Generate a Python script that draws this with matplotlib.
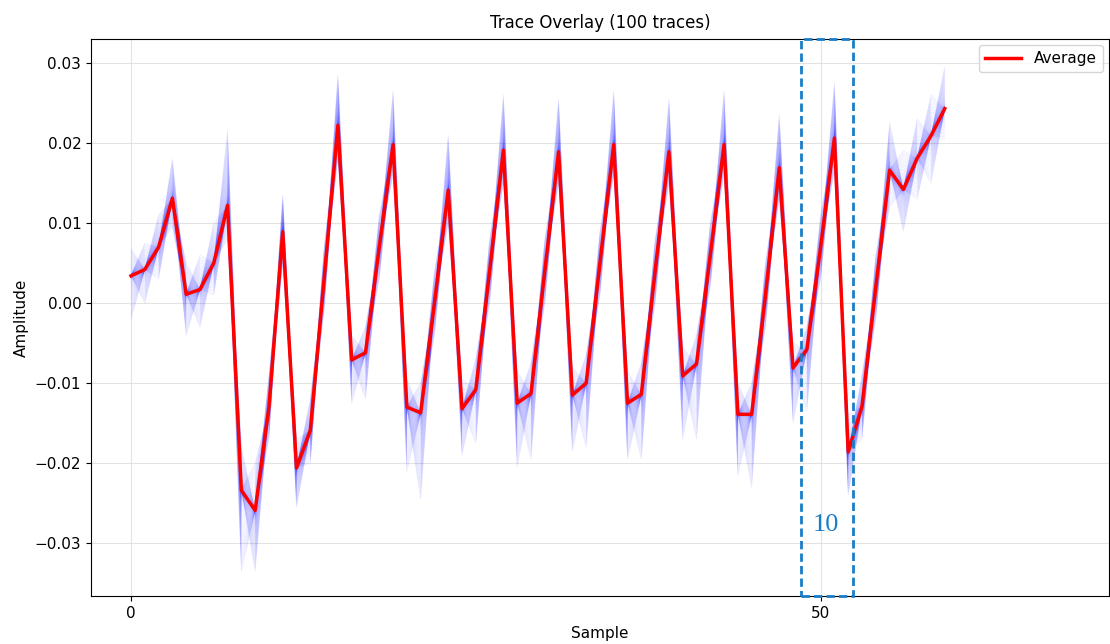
import numpy as np
import matplotlib
matplotlib.use("Agg")
import matplotlib.pyplot as plt
from matplotlib.patches import Rectangle
import matplotlib.transforms as mtransforms

# ---- data ----
samples = list(range(60))
average = [0.0034, 0.0042, 0.0070, 0.0131, 0.0011, 0.0017, 0.0050, 0.0122,
           -0.0234, -0.0259, -0.0130, 0.0089, -0.0206, -0.0159, 0.0030, 0.0222,
           -0.0071, -0.0062, 0.0070, 0.0198, -0.0130, -0.0137, 0.0000, 0.0141,
           -0.0132, -0.0108, 0.0040, 0.0191, -0.0125, -0.0113, 0.0040, 0.0189,
           -0.0115, -0.0100, 0.0050, 0.0198, -0.0125, -0.0114, 0.0040, 0.0189,
           -0.0091, -0.0076, 0.0060, 0.0198, -0.0139, -0.0139, 0.0010, 0.0169,
           -0.0081, -0.0058, 0.0070, 0.0206, -0.0186, -0.0129, 0.0020, 0.0166,
           0.0142, 0.0181, 0.0209, 0.0243]
trace_hi = [0.0068, 0.0075, 0.0110, 0.0180, 0.0050, 0.0060, 0.0100, 0.0215,
            -0.0180, -0.0200, -0.0090, 0.0135, -0.0170, -0.0120, 0.0070, 0.0285,
            -0.0040, -0.0030, 0.0110, 0.0265, -0.0095, -0.0100, 0.0040, 0.0210,
            -0.0095, -0.0070, 0.0080, 0.0260, -0.0085, -0.0075, 0.0080, 0.0255,
            -0.0080, -0.0065, 0.0090, 0.0265, -0.0085, -0.0075, 0.0080, 0.0255,
            -0.0055, -0.0040, 0.0100, 0.0265, -0.0100, -0.0100, 0.0050, 0.0235,
            -0.0050, -0.0030, 0.0110, 0.0275, -0.0140, -0.0090, 0.0060, 0.0225,
            0.0190, 0.0230, 0.0260, 0.0295]
trace_lo = [-0.0020, 0.0000, 0.0030, 0.0095, -0.0040, -0.0030, 0.0010, 0.0080,
            -0.0335, -0.0335, -0.0170, 0.0050, -0.0255, -0.0200, -0.0010, 0.0180,
            -0.0125, -0.0120, 0.0030, 0.0160, -0.0210, -0.0245, -0.0040, 0.0100,
            -0.0190, -0.0175, 0.0000, 0.0150, -0.0205, -0.0195, 0.0000, 0.0150,
            -0.0185, -0.0180, 0.0010, 0.0160, -0.0195, -0.0195, 0.0000, 0.0150,
            -0.0170, -0.0170, 0.0020, 0.0160, -0.0215, -0.0230, -0.0030, 0.0130,
            -0.0150, -0.0135, 0.0030, 0.0165, -0.0240, -0.0170, -0.0020, 0.0120,
            0.0090, 0.0130, 0.0150, 0.0205]
n_traces = 100
x_ticks = [0, 50]
y_ticks = [-0.03, -0.02, -0.01, 0.00, 0.01, 0.02, 0.03]

# ---- build overlay traces spread between the read envelopes ----
avg = np.array(average)
hi = np.array(trace_hi)
lo = np.array(trace_lo)
u = np.linspace(-1, 1, n_traces)
levels = np.sign(u) * np.abs(u) ** 3.2
x = np.array(samples)

fig = plt.figure(figsize=(11.1, 6.44), dpi=100)
ax = fig.add_axes([0.082, 0.0745, 0.917, 0.865])

for t in range(n_traces):
    idx = (t + 37 * x) % n_traces
    z = levels[idx]
    y = np.where(z > 0, avg + (hi - avg) * z, avg + (avg - lo) * z)
    ax.plot(x, y, color="blue", alpha=0.09, lw=0.5)

ax.plot(x, avg, color="red", lw=2.5, label="Average", zorder=5)

ax.set_xlim(-2.9, 70.9)
ax.set_ylim(-0.0366, 0.033)
ax.set_xticks(x_ticks)
ax.set_yticks(y_ticks)
ax.grid(True, color="#dddddd", lw=0.8, alpha=0.8)
ax.set_axisbelow(True)
ax.tick_params(labelsize=11)
ax.set_title("Trace Overlay (100 traces)", fontsize=12, pad=8)
ax.set_xlabel("Sample", fontsize=11)
ax.set_ylabel("Amplitude", fontsize=11)
ax.legend(loc="upper right", fontsize=11, handlelength=2.4,
          borderaxespad=0.4)

# dashed annotation box
trans = mtransforms.blended_transform_factory(ax.transData, ax.transAxes)
rect = Rectangle((48.55, 0.0), 3.77, 1.0, transform=trans, fill=False,
                 edgecolor="#1A7DC8", lw=2, ls=(0, (3, 1.5)), zorder=10,
                 clip_on=False)
ax.add_patch(rect)
ax.text(50.4, -0.0277, "10", color="#1A7DC8", fontsize=19,
        family="Liberation Serif", ha="center", va="center", zorder=11)

fig.savefig("out.png", dpi=100)
